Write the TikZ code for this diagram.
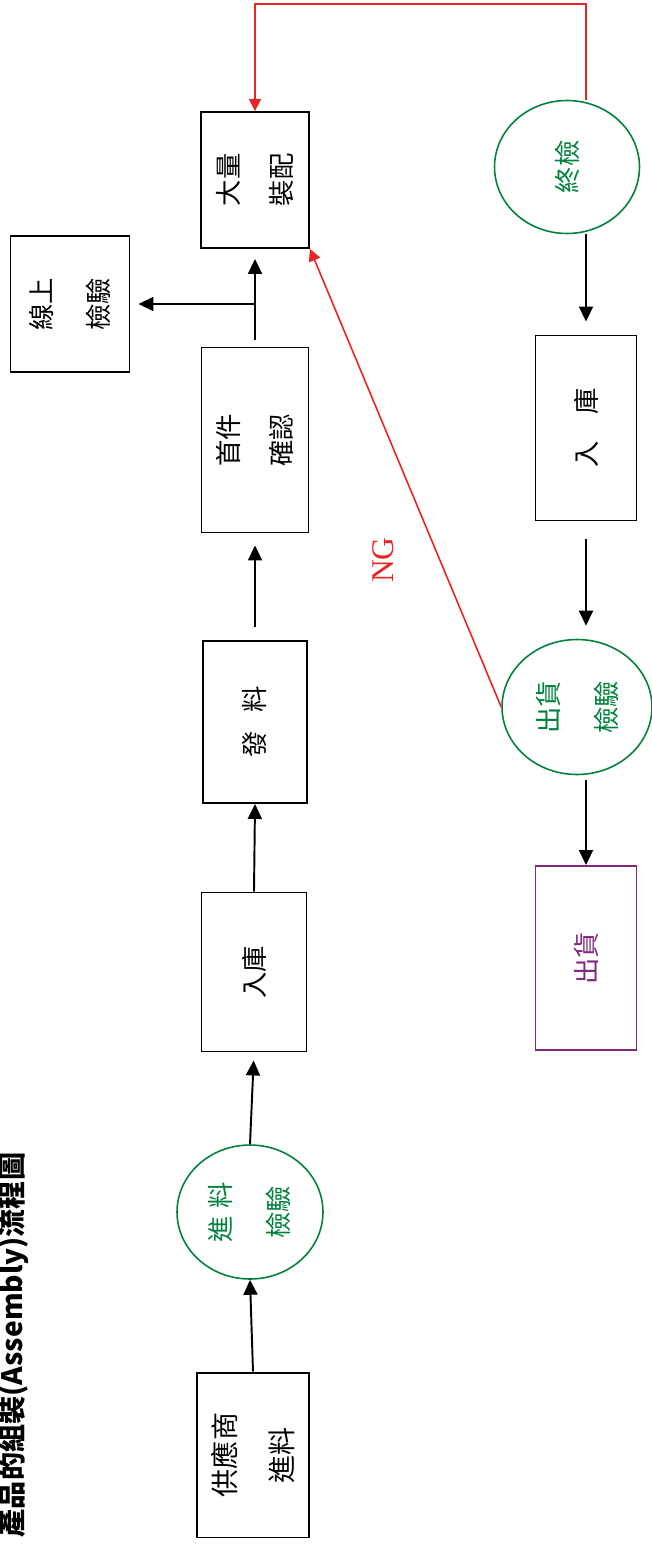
\documentclass[tikz,border=0pt]{standalone}
\usepackage{fontspec}
\newfontfamily\cjk{Noto Sans CJK TC}
\newfontfamily\ngfont{Liberation Serif}
\usetikzlibrary{shapes.geometric,arrows.meta}
\definecolor{qcgreen}{RGB}{0,130,60}
\definecolor{shippurple}{RGB}{128,40,128}
\definecolor{ngred}{RGB}{232,36,36}
\tikzset{
  stepbox/.style={draw, line width=1.1pt, rotate=90, inner sep=0pt, align=center, font=\cjk\fontsize{15}{30}\selectfont},
  qcring/.style={draw=qcgreen, text=qcgreen, ellipse, line width=0.9pt, rotate=90, inner sep=0pt, align=center, font=\cjk\fontsize{15}{30}\selectfont},
  flow/.style={-{Triangle[length=0.3cm,width=0.28cm]}, line width=1.1pt},
  ngflow/.style={-{Triangle[length=0.24cm,width=0.24cm]}, draw=ngred, line width=0.9pt},
}

\begin{document}
\begin{tikzpicture}[x=0.02cm,y=-0.02cm]
\useasboundingbox (0,0) rectangle (652,1544);
\node[rotate=90, font=\cjk\bfseries\fontsize{16}{20}\selectfont] at (13,1345) (title) {產品的組裝(Assembly)流程圖};
% incoming side
\node[stepbox, minimum width=3.3cm, minimum height=2.24cm, font=\cjk\fontsize{16}{32}\selectfont] at (253,1455) (supply) {供應商\\進料};
\node[qcring, minimum width=2.68cm, minimum height=2.92cm, font=\cjk\fontsize{15}{33}\selectfont] at (250,1212) (iqc) {進\hspace{0.3em}料\\檢驗};
\node[stepbox, minimum width=3.18cm, minimum height=2.1cm] at (254,972) (store1) {入庫};
\node[stepbox, minimum width=3.24cm, minimum height=2.08cm] at (255,722) (issue) {發\hspace{0.7em}料};
\node[stepbox, minimum width=3.7cm, minimum height=2.14cm] at (255,440) (first) {首件\\確認};
\node[stepbox, minimum width=2.72cm, minimum height=2.16cm] at (255,180) (mass) {大量\\裝配};
\node[stepbox, minimum width=2.72cm, minimum height=2.38cm, font=\cjk\fontsize{15}{32}\selectfont] at (70,304) (online) {線上\\檢驗};
% outgoing side
\node[qcring, minimum width=2.66cm, minimum height=2.9cm] at (567,167) (final) {終檢};
\node[stepbox, minimum width=3.7cm, minimum height=2.02cm] at (586,428) (store2) {入\hspace{1em}庫};
\node[qcring, minimum width=2.7cm, minimum height=3cm, font=\cjk\fontsize{15}{33}\selectfont] at (577,707) (oqc) {出貨\\檢驗};
\node[stepbox, draw=shippurple, text=shippurple, minimum width=3.68cm, minimum height=2.02cm] at (586,958) (ship) {出貨};
\node[rotate=90, text=ngred, font=\ngfont\fontsize{18}{20}\selectfont] at (383,560) (ng) {NG};

\draw[flow] (supply.east) -- (iqc.west);
\draw[flow, shorten >=0.16cm] (iqc.east) -- (store1.west);
\draw[flow] (store1.east) -- (issue.west);
\draw[flow, shorten <=0.26cm, shorten >=0.24cm] (issue.east) -- (first.west);
\draw[flow, shorten <=0.14cm, shorten >=0.2cm] (first.east) -- (mass.west);
\draw[flow, shorten >=0.16cm] (first.east |- online.south) -- (online.south);
\draw[flow, shorten >=0.26cm] (final.west -| store2) -- (store2.east);
\draw[flow, shorten <=0.36cm, shorten >=0.26cm] (store2.west) -- (oqc.east -| store2);
\draw[flow, shorten <=0.1cm] (oqc.west -| ship) -- (ship.east);
\draw[ngflow] (final.east -| store2) |- (mass.east |- 0,4) -- (mass.east);
\draw[ngflow] (oqc.north) -- (mass.south west);
\end{tikzpicture}
\end{document}
